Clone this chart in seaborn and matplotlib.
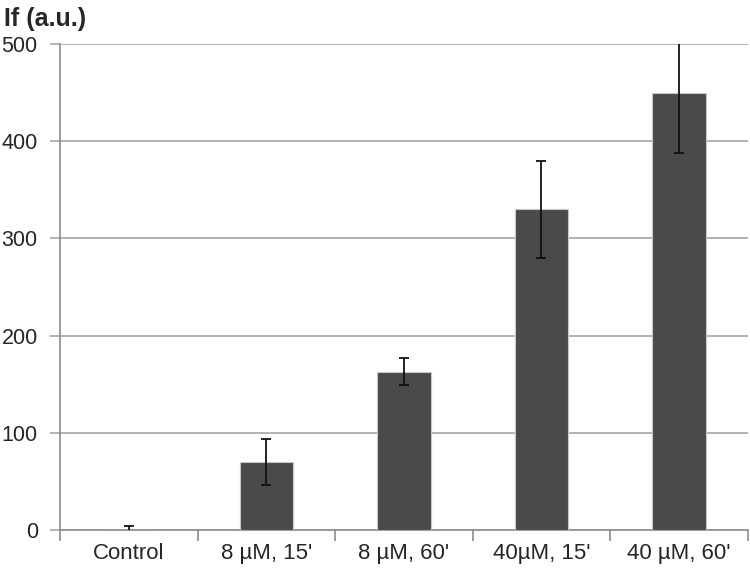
import numpy as np
import pandas as pd
import matplotlib.pyplot as plt
import seaborn as sns

categories = ["Control", "8 µM, 15'", "8 µM, 60'", "40µM, 15'", "40 µM, 60'"]
values = [0, 70, 163, 330, 450]
errors = [4, 24, 14, 50, 62]

sns.set_style("white")
plt.rcParams['font.family'] = ['Liberation Sans', 'DejaVu Sans']

df = pd.DataFrame({"cond": categories, "If": values})

fig = plt.figure(figsize=(7.5, 5.8), dpi=100)
ax = fig.add_axes([0.08, 0.086, 0.917, 0.838])

sns.barplot(data=df, x="cond", y="If", color="#4a4a4a", saturation=1,
            width=0.39, edgecolor="#c8c8c8", linewidth=0.8, ax=ax, zorder=3)
ax.errorbar(np.arange(len(values)), values, yerr=errors, fmt="none",
            ecolor="#111111", elinewidth=1.3, capsize=3.5, capthick=1.3, zorder=4)

ax.set_ylim(0, 500)
ax.set_xlim(-0.5, len(categories) - 0.5)
ax.set_yticks([0, 100, 200, 300, 400, 500])
ax.yaxis.grid(True, color="#a6a6a6", linewidth=1.2, zorder=0)
ax.set_axisbelow(True)

ax.set_xticks(np.arange(len(categories)))
ax.set_xticklabels(categories)
ax.set_xticks(np.arange(-0.5, len(categories)), minor=True)
ax.tick_params(axis="x", which="major", bottom=True, length=0, pad=9, labelsize=16)
ax.tick_params(axis="x", which="minor", bottom=True, length=8, color="#8c8c8c", width=1.2)
ax.tick_params(axis="y", left=True, length=7, color="#a6a6a6", width=1.2, labelsize=15.5, pad=9)
ax.set_xlabel("")
ax.set_ylabel("")

for s in ["top", "right"]:
    ax.spines[s].set_visible(False)
ax.spines["left"].set_color("#8c8c8c")
ax.spines["left"].set_linewidth(1.2)
ax.spines["bottom"].set_color("#8c8c8c")
ax.spines["bottom"].set_linewidth(1.2)
ax.spines["left"].set_bounds(0, 500)

fig.text(0.005, 0.968, "If (a.u.)", fontsize=18, fontweight="bold", va="center", ha="left")

fig.savefig("out.png", dpi=100)
